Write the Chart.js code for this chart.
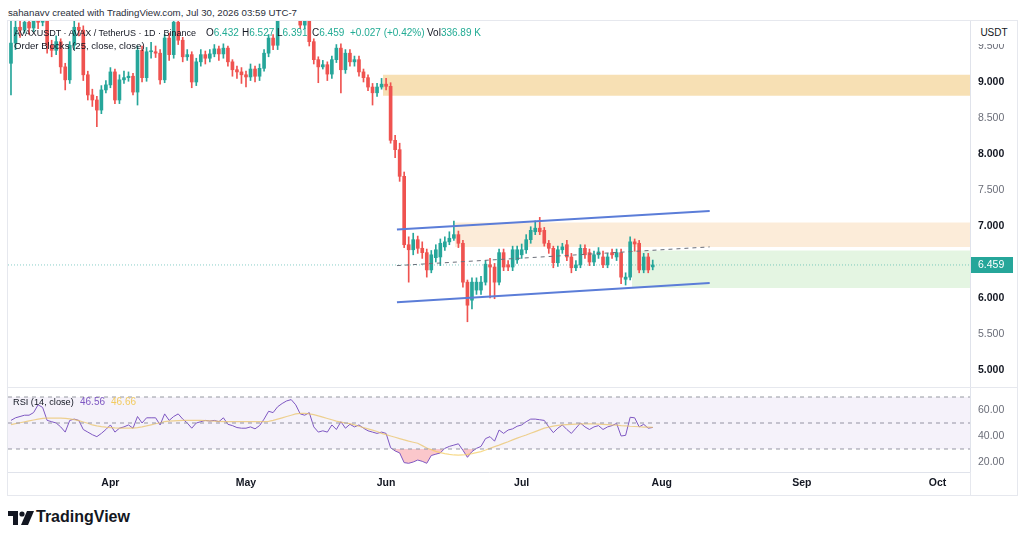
<!DOCTYPE html>
<html>
<head>
<meta charset="utf-8">
<script src="https://cdn.jsdelivr.net/npm/chart.js@4.4.1/dist/chart.umd.min.js"></script>
<style>
  body { margin: 0; background: #fff; font-family: "Liberation Sans", Arial, sans-serif; }
  #wrap { position: relative; width: 1024px; height: 539px; overflow: hidden; background: #fff; }
  canvas { position: absolute; left: 0; }
  .ln { position: absolute; background: #E6E8EE; }
  .txt { position: absolute; font-size: 10px; line-height: 14px; color: #131722; white-space: nowrap; }
  .up { color: #22AB94; }
</style>
</head>
<body>
<div id="wrap">
  <canvas id="priceChart" width="1024" height="367" style="top:20px"></canvas>
  <canvas id="rsiChart" width="1024" height="108" style="top:387px"></canvas>

  <!-- frame lines -->
  <div class="ln" style="left:7px;top:20px;width:1011px;height:1px"></div>
  <div class="ln" style="left:7px;top:20px;width:1px;height:475px"></div>
  <div class="ln" style="left:1017px;top:20px;width:1px;height:475px"></div>
  <div class="ln" style="left:7px;top:387px;width:1011px;height:1px"></div>
  <div class="ln" style="left:7px;top:495px;width:1011px;height:1px"></div>
  <div class="ln" style="left:970px;top:472px;width:1px;height:23px"></div>

  <!-- header -->
  <div class="txt" style="left:8px;top:6px;font-size:9.7px;color:#2A2E39">sahanavv created with TradingView.com, Jul 30, 2026 03:59 UTC-7</div>
  <div class="txt" style="left:14px;top:26px;font-size:9px">AVAXUSDT · AVAX / TetherUS · 1D · Binance</div>
  <div class="txt" style="left:206px;top:26px">O<span class="up">6.432</span></div>
  <div class="txt" style="left:242px;top:26px">H<span class="up">6.527</span></div>
  <div class="txt" style="left:277px;top:26px">L<span class="up">6.391</span></div>
  <div class="txt" style="left:312px;top:26px">C<span class="up">6.459</span></div>
  <div class="txt up" style="left:350px;top:26px">+0.027 (+0.42%)</div>
  <div class="txt" style="left:427px;top:26px">Vol<span class="up">336.89 K</span></div>
  <div class="txt" style="left:14px;top:39px;font-size:9.6px">Order Blocks (25, close, close)</div>

  <div class="txt" style="left:971px;top:22px;width:46px;height:22px;line-height:22px;background:#fff;text-align:center">USDT</div>

  <!-- rsi legend -->
  <div class="txt" style="left:13px;top:395px;font-size:9.2px">RSI (14, close)</div>
  <div class="txt" style="left:80px;top:395px;color:#7E57C2">46.56</div>
  <div class="txt" style="left:111px;top:395px;color:#F2CB60">46.66</div>

  <!-- logo -->
  <svg style="position:absolute;left:8px;top:511px" width="26" height="14" viewBox="0 0 26 14">
    <path d="M0 0 H10 V14 H5 V5 H0 Z" fill="#131722"/>
    <circle cx="14" cy="3" r="2.6" fill="#131722"/>
    <path d="M19 0 H26 L20 14 H13 Z" fill="#131722"/>
  </svg>
  <div class="txt" style="left:36px;top:507px;font-size:16px;line-height:20px;font-weight:bold">TradingView</div>
</div>

<script>
// daily candles, Mar 10 .. Jul 30 (index 0 .. 142)
const opens = [
  9.26, 9.54, 9.76, 9.72, 9.83, 9.75, 9.93, 9.83, 9.89, 9.51,
  9.44, 9.56, 9.21, 9.03, 9.51, 9.76, 9.72, 9.10, 8.82, 8.75,
  8.61, 8.89, 8.96, 9.14, 8.75, 9.03, 9.06, 9.08, 8.86, 9.44,
  9.06, 9.42, 9.42, 9.40, 9.03, 9.61, 9.38, 9.83, 9.58, 9.35,
  9.38, 9.00, 9.28, 9.38, 9.33, 9.39, 9.46, 9.39, 9.47, 9.28,
  9.17, 9.14, 9.10, 9.07, 9.18, 9.08, 9.19, 9.40, 9.61, 9.51,
  9.89, 10.07, 10.00, 10.14, 10.03, 9.79, 9.86, 9.56, 9.31, 9.21,
  9.24, 9.11, 9.31, 9.47, 9.17, 9.40, 9.28, 9.31, 9.14, 9.06,
  8.93, 8.85, 8.93, 8.97, 8.94, 8.19, 8.06, 7.69, 6.74, 6.67,
  6.81, 6.69, 6.63, 6.39, 6.56, 6.57, 6.71, 6.78, 6.83, 6.88,
  6.76, 6.22, 5.97, 6.11, 6.11, 6.22, 6.46, 6.43, 6.22, 6.63,
  6.46, 6.43, 6.53, 6.60, 6.67, 6.81, 6.92, 6.97, 6.94, 6.76,
  6.69, 6.49, 6.67, 6.74, 6.57, 6.42, 6.46, 6.69, 6.63, 6.50,
  6.60, 6.57, 6.46, 6.63, 6.57, 6.63, 6.26, 6.29, 6.78, 6.76,
  6.39, 6.57, 6.432
];
const highs = [
  9.90, 9.86, 9.85, 9.95, 9.90, 10.05, 9.98, 9.98, 9.93, 9.58,
  9.64, 9.60, 9.26, 9.56, 9.86, 9.82, 9.78, 9.15, 8.90, 8.80,
  8.95, 9.02, 9.20, 9.18, 9.10, 9.15, 9.14, 9.12, 9.50, 9.50,
  9.48, 9.55, 9.50, 9.45, 9.66, 9.68, 9.90, 9.87, 9.62, 9.45,
  9.42, 9.33, 9.45, 9.43, 9.45, 9.52, 9.50, 9.53, 9.50, 9.31,
  9.22, 9.20, 9.15, 9.25, 9.22, 9.25, 9.45, 9.66, 9.66, 9.95,
  10.12, 10.10, 10.18, 10.18, 10.06, 9.92, 9.90, 9.60, 9.35, 9.30,
  9.28, 9.36, 9.52, 9.53, 9.45, 9.45, 9.36, 9.36, 9.18, 9.10,
  8.98, 8.98, 9.05, 9.05, 8.99, 8.26, 8.15, 7.75, 6.85, 6.90,
  6.86, 6.78, 6.68, 6.66, 6.74, 6.82, 6.85, 6.92, 7.07, 6.93,
  6.80, 6.25, 6.28, 6.28, 6.30, 6.52, 6.55, 6.48, 6.68, 6.68,
  6.52, 6.72, 6.72, 6.75, 6.88, 6.99, 7.07, 7.12, 6.98, 6.80,
  6.72, 6.72, 6.76, 6.80, 6.62, 6.52, 6.74, 6.74, 6.68, 6.65,
  6.70, 6.65, 6.62, 6.68, 6.68, 6.68, 6.35, 6.85, 6.82, 6.80,
  6.62, 6.62, 6.527
];
const lows = [
  8.82, 9.45, 9.62, 9.68, 9.66, 9.70, 9.74, 9.78, 9.40, 9.35,
  9.38, 9.12, 8.89, 8.98, 9.45, 9.64, 9.02, 8.75, 8.66, 8.38,
  8.56, 8.85, 8.92, 8.70, 8.70, 8.98, 9.01, 8.82, 8.68, 9.00,
  9.01, 9.33, 9.34, 8.97, 8.99, 9.30, 9.33, 9.52, 9.28, 9.30,
  8.92, 8.95, 9.22, 9.25, 9.28, 9.35, 9.30, 9.33, 9.22, 9.08,
  9.05, 8.98, 8.93, 9.02, 9.00, 9.02, 9.15, 9.35, 9.45, 9.45,
  9.85, 9.95, 9.96, 9.98, 9.74, 9.74, 9.50, 9.25, 8.99, 9.18,
  9.02, 9.05, 9.27, 8.85, 9.12, 9.22, 9.22, 9.08, 9.00, 8.88,
  8.68, 8.80, 8.90, 8.89, 8.15, 7.95, 7.62, 6.70, 6.22, 6.60,
  6.62, 6.55, 6.29, 6.35, 6.50, 6.45, 6.66, 6.74, 6.80, 6.70,
  6.15, 5.67, 5.85, 6.05, 6.05, 6.18, 6.00, 5.99, 6.18, 6.38,
  6.38, 6.38, 6.48, 6.55, 6.62, 6.76, 6.88, 6.88, 6.72, 6.62,
  6.42, 6.44, 6.62, 6.52, 6.35, 6.38, 6.42, 6.55, 6.45, 6.45,
  6.55, 6.42, 6.42, 6.55, 6.52, 6.20, 6.18, 6.25, 6.65, 6.35,
  6.35, 6.35, 6.391
];
const closes = [
  9.54, 9.76, 9.72, 9.83, 9.75, 9.93, 9.83, 9.89, 9.51, 9.44,
  9.56, 9.21, 9.03, 9.51, 9.76, 9.72, 9.10, 8.82, 8.75, 8.61,
  8.89, 8.96, 9.14, 8.75, 9.03, 9.06, 9.08, 8.86, 9.44, 9.06,
  9.42, 9.42, 9.40, 9.03, 9.61, 9.38, 9.83, 9.58, 9.35, 9.38,
  9.00, 9.28, 9.38, 9.33, 9.39, 9.46, 9.39, 9.47, 9.28, 9.17,
  9.14, 9.10, 9.07, 9.18, 9.08, 9.19, 9.40, 9.61, 9.51, 9.89,
  10.07, 10.00, 10.14, 10.03, 9.79, 9.86, 9.56, 9.31, 9.21, 9.24,
  9.11, 9.31, 9.47, 9.17, 9.40, 9.28, 9.31, 9.14, 9.06, 8.93,
  8.85, 8.93, 8.97, 8.94, 8.19, 8.06, 7.69, 6.74, 6.67, 6.81,
  6.69, 6.63, 6.39, 6.60, 6.67, 6.76, 6.78, 6.83, 6.88, 6.76,
  6.22, 5.90, 6.22, 6.22, 6.22, 6.47, 6.43, 6.22, 6.63, 6.43,
  6.43, 6.67, 6.67, 6.67, 6.81, 6.94, 6.97, 6.92, 6.76, 6.69,
  6.49, 6.67, 6.71, 6.57, 6.42, 6.46, 6.69, 6.60, 6.50, 6.60,
  6.64, 6.46, 6.57, 6.60, 6.63, 6.29, 6.29, 6.78, 6.75, 6.39,
  6.57, 6.39, 6.459
];

// RSI(14) and its moving average
const rsi = [
  52, 54, 55, 56, 56, 58, 64, 62, 52, 51,
  50, 47, 43, 52, 53, 52, 45, 43, 41, 39.5,
  42, 45, 48.5, 43, 46, 47, 48.5, 46, 55, 50,
  54, 54, 54, 48.5, 57, 52, 55, 57, 53, 50,
  46, 50, 51, 52, 51.5, 52, 51, 54, 49, 48,
  46.5, 46, 46, 47, 45.5, 48, 53, 59, 58, 62.5,
  65, 67, 68, 64, 57, 56, 58, 47, 43, 44,
  43, 48.5, 45, 51, 46, 49, 47, 48.5, 46, 44,
  43, 42, 43, 42, 31, 28.5, 27, 19.5, 19, 20,
  21.5, 20.5, 19, 25, 26, 27, 30.5, 32, 33, 34,
  29, 23.6, 28, 30.5, 32, 38, 39.5, 36, 44.6, 42,
  44.6, 45.5, 47.5, 48.5, 51, 53, 53, 52.5, 52, 47,
  42.6, 46, 48.5, 45, 42, 46, 50, 47, 45, 47,
  48, 45, 47, 48, 49.7, 40, 40.5, 54.4, 54, 47,
  49, 46, 46.56
];
const rsiMa = [
  48.8, 49.5, 50.2, 50.9, 51.6, 52.3, 53, 53.6, 53.7, 53.8,
  53.8, 53.7, 53.6, 53.2, 52.6, 51.8, 50.8, 49.8, 48.5, 47.8,
  47.2, 46.8, 46.5, 46.2, 46, 46, 46, 46, 46.4, 47,
  47.8, 48.6, 49.4, 50.2, 51, 51.4, 51.7, 51.9, 52, 52,
  52, 52, 52, 51.9, 51.7, 51.5, 51.3, 51.1, 51, 51,
  51, 51, 51, 51, 51, 51, 51, 51.2, 52, 53,
  54, 55, 56, 57, 57.4, 57.4, 57, 56.5, 55.5, 54.5,
  53.5, 52.5, 51.5, 50.7, 50, 49.5, 48.5, 47.5, 46.5, 45.5,
  44.5, 43.5, 42, 41, 40, 39, 38, 37, 36, 35.2,
  34.4, 32.6, 30.8, 29.5, 28.2, 27.2, 26.4, 25.8, 25.4, 25.3,
  25.4, 25.8, 26.4, 27.2, 28, 29.2, 30.5, 31.8, 33, 34.3,
  35.6, 37, 38.4, 39.6, 40.8, 42.1, 43.4, 44.7, 46, 46.8,
  47.6, 48.2, 48.5, 48.8, 49, 49.2, 49.3, 49.4, 49.4, 49.3,
  49.2, 49, 48.8, 48.5, 48.3, 48, 47.8, 47.5, 47.3, 47.1,
  46.9, 46.8, 46.66
];

// time axis
const monthTicks = ["Apr", "May", "Jun", "Jul", "Aug", "Sep", "Oct"];
const monthIdx = [22, 52, 83, 113, 144, 175, 205];

// order block zones (start index, top, bottom)
const zoneStart = [82.3, 98.2, 137.4];
const zoneTop = [9.10, 7.05, 6.66];
const zoneBottom = [8.81, 6.71, 6.14];
const zoneColors = ["rgba(242, 204, 130, 0.6)", "rgba(250, 226, 196, 0.65)", "rgba(214, 240, 210, 0.65)"];

// parallel channel
const channelX = [85.4, 154.6];
const channelUpper = [6.95, 7.21];
const channelLower = [5.94, 6.21];
const channelMid = [6.45, 6.71];

const priceTicks = [5, 5.5, 6, 6.5, 7, 7.5, 8, 8.5, 9, 9.5];
const rsiTicks = [20, 40, 60];

const UP = "#26A69A";
const DOWN = "#EF5350";
const X_MIN = -0.66;
const X_MAX = 212.2;
const FONT = '"Liberation Sans", Arial, sans-serif';

let idx = opens.map(function (_, i) { return i; });
let candleColors = idx.map(function (i) { return closes[i] >= opens[i] ? UP : DOWN; });
let lastClose = closes[closes.length - 1];

function hLine(y, from, to) {
  return [{ x: from, y: y }, { x: to, y: y }];
}

function isWhole(c) {
  return c.tick !== undefined && c.tick.value % 1 === 0;
}

// the right axis should not push the plot area in
function fitRightAxis(s) {
  s.width = 54;
  s.paddingTop = 0;
  s.paddingBottom = 0;
}

// Bands behind the candles
let datasets = [];
for (let z = 0; z < zoneStart.length; z++) {
  datasets.push({
    type: "line",
    data: hLine(zoneTop[z], zoneStart[z], X_MAX),
    borderWidth: 0,
    pointRadius: 0,
    fill: { value: zoneBottom[z] },
    backgroundColor: zoneColors[z],
    order: 10,
  });
}

// last price dotted line
datasets.push({
  type: "line",
  data: hLine(lastClose, X_MIN, X_MAX),
  borderColor: "rgba(38, 166, 154, 0.55)",
  borderWidth: 1,
  borderDash: [1, 2],
  pointRadius: 0,
  fill: false,
  order: 9,
});

// candle wicks + bodies as floating bars
datasets.push({
  type: "bar",
  data: idx.map(function (i) { return { x: i, y: [lows[i], highs[i]] }; }),
  backgroundColor: candleColors,
  barThickness: 1,
  grouped: false,
  order: 3,
});
datasets.push({
  type: "bar",
  data: idx.map(function (i) { return { x: i, y: [opens[i], closes[i]] }; }),
  backgroundColor: candleColors,
  barThickness: 3,
  minBarLength: 1,
  grouped: false,
  order: 2,
});

// channel lines
datasets.push({
  type: "line",
  data: [{ x: channelX[0], y: channelUpper[0] }, { x: channelX[1], y: channelUpper[1] }],
  borderColor: "#5B7DD8", borderWidth: 2, pointRadius: 0, fill: false, order: 0,
});
datasets.push({
  type: "line",
  data: [{ x: channelX[0], y: channelLower[0] }, { x: channelX[1], y: channelLower[1] }],
  borderColor: "#5B7DD8", borderWidth: 2, pointRadius: 0, fill: false, order: 0,
});
datasets.push({
  type: "line",
  data: [{ x: channelX[0], y: channelMid[0] }, { x: channelX[1], y: channelMid[1] }],
  borderColor: "#6B6F7A", borderWidth: 1, borderDash: [4, 4], pointRadius: 0, fill: false, order: 0,
});

// price tag on the right axis
const lastPriceTag = {
  id: "lastPriceTag",
  afterDraw: function (chart) {
    let ctx = chart.ctx;
    let y = chart.scales.y.getPixelForValue(lastClose);
    let x = chart.chartArea.right + 1;
    ctx.save();
    ctx.fillStyle = UP;
    ctx.fillRect(x, Math.round(y) - 8, 42, 16);
    ctx.fillStyle = "#fff";
    ctx.font = "10.5px " + FONT;
    ctx.textBaseline = "middle";
    ctx.fillText(lastClose.toFixed(3), x + 7, y + 0.5);
    ctx.restore();
  },
};

new Chart(document.getElementById("priceChart"), {
  type: "bar",
  data: { datasets: datasets },
  options: {
    responsive: false,
    animation: false,
    layout: { padding: { left: 8, right: 0, top: 0, bottom: 0 } },
    plugins: { legend: { display: false }, tooltip: { enabled: false } },
    scales: {
      x: { type: "linear", min: X_MIN, max: X_MAX, offset: false, display: false },
      y: {
        position: "right",
        min: 4.764,
        max: 9.861,
        grid: { display: false, drawTicks: false },
        border: { display: true, color: "#E0E3EB" },
        afterBuildTicks: function (s) { s.ticks = priceTicks.map(function (v) { return { value: v }; }); },
        afterFit: fitRightAxis,
        ticks: {
          padding: 8,
          callback: function (v) { return Number(v).toFixed(3); },
          color: function (c) { return isWhole(c) ? "#131722" : "#6A6D78"; },
          font: function (c) { return { family: FONT, size: 10.5, weight: isWhole(c) ? "bold" : "normal" }; },
        },
      },
    },
  },
  plugins: [lastPriceTag],
});

// RSI pane
let rsiSets = [
  {
    data: hLine(70, X_MIN, X_MAX),
    borderColor: "#9598A1", borderWidth: 1, borderDash: [4, 4], pointRadius: 0,
    fill: { value: 30 }, backgroundColor: "rgba(126, 87, 194, 0.08)",
  },
  { data: hLine(50, X_MIN, X_MAX), borderColor: "#9598A1", borderWidth: 1, borderDash: [4, 4], pointRadius: 0, fill: false },
  { data: hLine(30, X_MIN, X_MAX), borderColor: "#9598A1", borderWidth: 1, borderDash: [4, 4], pointRadius: 0, fill: false },
  {
    data: idx.map(function (i) { return { x: i, y: rsiMa[i] }; }),
    borderColor: "rgba(244, 206, 100, 0.75)", borderWidth: 1.2, pointRadius: 0, fill: false,
  },
  {
    data: idx.map(function (i) { return { x: i, y: rsi[i] }; }),
    borderColor: "#7E57C2", borderWidth: 1, pointRadius: 0,
    fill: { target: { value: 30 }, above: "rgba(0,0,0,0)", below: "rgba(242, 54, 69, 0.28)" },
  },
];

new Chart(document.getElementById("rsiChart"), {
  type: "line",
  data: { datasets: rsiSets },
  options: {
    responsive: false,
    animation: false,
    layout: { padding: { left: 8, right: 0, top: 0, bottom: 0 } },
    plugins: { legend: { display: false }, tooltip: { enabled: false } },
    scales: {
      x: {
        type: "linear",
        min: X_MIN,
        max: X_MAX,
        offset: false,
        grid: { display: false, drawTicks: false },
        border: { display: true, color: "#E0E3EB" },
        afterBuildTicks: function (s) { s.ticks = monthIdx.map(function (v) { return { value: v }; }); },
        afterFit: function (s) { s.height = 23; s.paddingLeft = 0; s.paddingRight = 0; },
        ticks: {
          autoSkip: false,
          maxRotation: 0,
          padding: 5,
          color: "#131722",
          font: { family: FONT, size: 10.5, weight: "bold" },
          callback: function (v) { return monthTicks[monthIdx.indexOf(v)]; },
        },
      },
      y: {
        position: "right",
        min: 12.3,
        max: 77.7,
        grid: { display: false, drawTicks: false },
        border: { display: true, color: "#E0E3EB" },
        afterBuildTicks: function (s) { s.ticks = rsiTicks.map(function (v) { return { value: v }; }); },
        afterFit: fitRightAxis,
        ticks: {
          padding: 8,
          color: "#6A6D78",
          font: { family: FONT, size: 10.5 },
          callback: function (v) { return Number(v).toFixed(2); },
        },
      },
    },
  },
});
</script>
</body>
</html>
